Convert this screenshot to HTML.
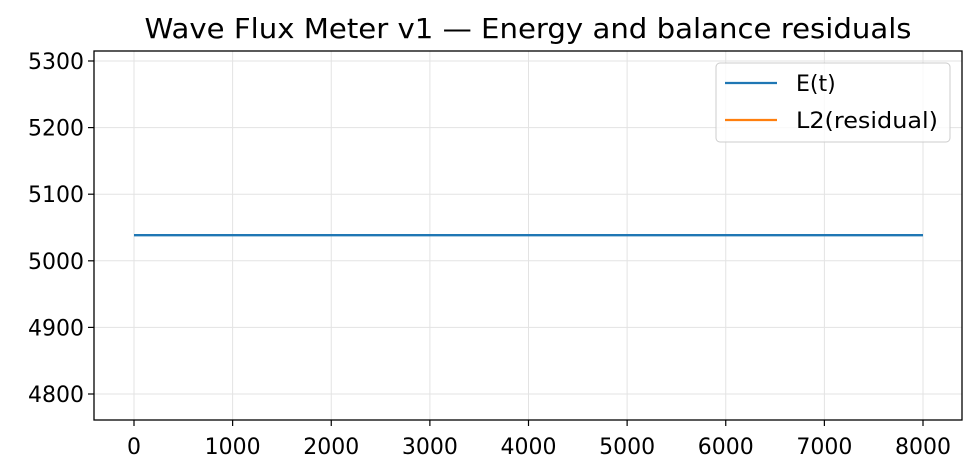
<!DOCTYPE html>
<html><head><meta charset="utf-8"><style>
html,body{margin:0;padding:0;background:#fff;overflow:hidden;width:978px;height:476px;}
svg{display:block;}
svg text{font-family:"DejaVu Sans","Liberation Sans",sans-serif;fill:#000;}
</style></head><body>
<svg id="chart" width="978" height="476">
<rect width="978" height="476" fill="#fff"/>
<text x="528" y="38" font-size="28" text-anchor="middle" textLength="767" lengthAdjust="spacingAndGlyphs">Wave Flux Meter v1 — Energy and balance residuals</text>
<defs><clipPath id="plotclip"><rect x="94" y="51" width="868" height="369"/></clipPath></defs>
<g id="grid"></g>
<g id="series" clip-path="url(#plotclip)"></g>
<rect x="94" y="51" width="868" height="369" fill="none" stroke="#000" stroke-width="1.3"/>
<g id="axes"></g>
<g>
<rect x="716" y="63" width="234" height="79" rx="4" fill="#fff" fill-opacity="0.8" stroke="#ccc"/>
<line x1="725" y1="83" x2="777" y2="83" stroke="#1f77b4" stroke-width="2.2"/>
<text x="796" y="91" font-size="22">E(t)</text>
<line x1="725" y1="120" x2="777" y2="120" stroke="#ff7f0e" stroke-width="2.2"/>
<text x="796" y="128" font-size="22" textLength="142" lengthAdjust="spacingAndGlyphs">L2(residual)</text>
</g>
</svg>
<script>
const xTicks=[0,1000,2000,3000,4000,5000,6000,7000,8000];
const yTicks=[4800,4900,5000,5100,5200,5300];
const times=[0,8000];
const energy=[5038.5,5038.5];
const residual=[0,0];
const NS="http://www.w3.org/2000/svg";
function xs(v){return 134+(v-0)*(923-134)/8000;}
function ys(v){return 394-(v-4800)*(394-61)/500;}
function clampY(y){return Math.max(48,Math.min(423,y));}
function mk(tag,attrs,parent){const e=document.createElementNS(NS,tag);for(const k in attrs)e.setAttribute(k,attrs[k]);parent.appendChild(e);return e;}
const grid=document.getElementById('grid'),axes=document.getElementById('axes'),series=document.getElementById('series');
xTicks.forEach(t=>{const x=xs(t);
 const g=mk('line',{x1:x,x2:x,y1:51,y2:420,stroke:'#e3e3e3','stroke-width':1},grid);
 
 
 const tk=mk('line',{x1:x,x2:x,y1:420,y2:426,stroke:'#000','stroke-width':1.2},axes);
 
 
 const lb=mk('text',{x:x,y:454,'font-size':22,'text-anchor':'middle'},axes);lb.textContent=t;
 
 
});
yTicks.forEach(t=>{const y=ys(t);
 const g=mk('line',{x1:94,x2:962,y1:y,y2:y,stroke:'#e3e3e3','stroke-width':1},grid);
 
 
 const tk=mk('line',{x1:88,x2:94,y1:y,y2:y,stroke:'#000','stroke-width':1.2},axes);
 
 
 const lb=mk('text',{x:84,y:y+8,'font-size':22,'text-anchor':'end'},axes);lb.textContent=t;
 
 
});
function pts(arr){return times.map((t,i)=>xs(t)+','+clampY(ys(arr[i]))).join(' ');}
const l2=mk('polyline',{points:pts(residual),fill:'none',stroke:'#ff7f0e','stroke-width':2.4},series);


const l1=mk('polyline',{points:pts(energy),fill:'none',stroke:'#1f77b4','stroke-width':2.4},series);


</script>
</body></html>
